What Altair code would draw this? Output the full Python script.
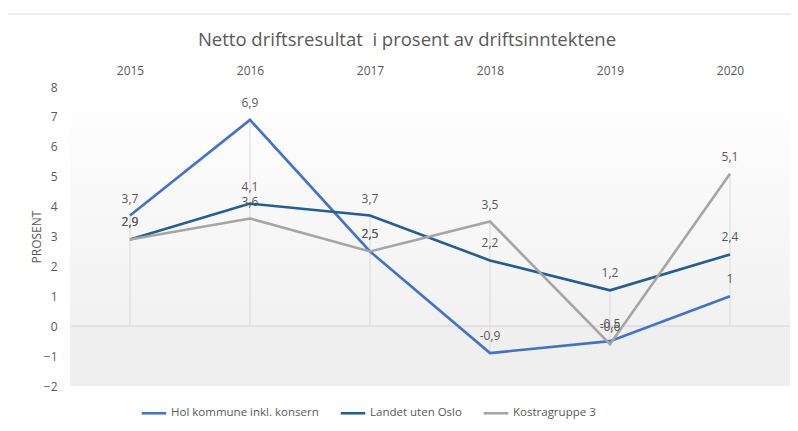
import altair as alt
import pandas as pd

years = ["2015", "2016", "2017", "2018", "2019", "2020"]
series = ["Hol kommune inkl. konsern", "Landet uten Oslo", "Kostragruppe 3"]
hol = [3.7, 6.9, 2.5, -0.9, -0.5, 1.0]
landet = [2.9, 4.1, 3.7, 2.2, 1.2, 2.4]
kostra = [2.9, 3.6, 2.5, 3.5, -0.6, 5.1]
colors = ["#4472C4", "#255E91", "#A5A5A5"]
y_ticks = list(range(-2, 9))
title_text = "Netto driftsresultat \u00a0i prosent av driftsinntektene"

FONT = "Open Sans"
GREY = "#595959"


def fmt(v):
    s = ("%g" % v)
    return s.replace(".", ",")


rows = []
for s, vals in zip(series, [hol, landet, kostra]):
    for yr, v in zip(years, vals):
        rows.append({"year": yr, "series": s, "value": v, "label": fmt(v)})
df = pd.DataFrame(rows)

all_vals = list(zip(hol, landet, kostra))
drop = pd.DataFrame({
    "year": years,
    "lo": [min(0, *v) for v in all_vals],
    "hi": [max(0, *v) for v in all_vals],
})
pos_bg = pd.DataFrame({"top": [8], "bottom": [0]})
neg_bg = pd.DataFrame({"top": [0], "bottom": [-2]})
zero = pd.DataFrame({"v": [0]})

yscale = alt.Scale(domain=[-2, 8], nice=False, zero=False)
xscale = alt.Scale(type="point", padding=0.5, domain=years)

y_axis = alt.Axis(values=y_ticks, title="PROSENT", labelPadding=13,
                  titlePadding=0, titleFont=FONT, titleFontSize=12,
                  titleFontWeight="normal", titleColor=GREY)
x_axis = alt.Axis(orient="top", labelPadding=10, labelAngle=0, title=None)


def Y(field):
    return alt.Y(field, scale=yscale, axis=y_axis, title="PROSENT")


def X():
    return alt.X("year:N", scale=xscale, axis=x_axis, title=None)


neg_layer = alt.Chart(neg_bg).mark_rect(color="#efefef").encode(
    x=alt.value(0), x2=alt.value(720),
    y=Y("top:Q"),
    y2="bottom:Q",
)

grad = alt.Gradient(
    gradient="linear",
    stops=[alt.GradientStop(color="#ffffff", offset=0),
           alt.GradientStop(color="#f1f1f1", offset=1)],
    x1=0, x2=0, y1=0, y2=1,
)
pos_layer = alt.Chart(pos_bg).mark_rect(color=grad).encode(
    x=alt.value(0), x2=alt.value(720),
    y=Y("top:Q"),
    y2="bottom:Q",
)

zero_layer = alt.Chart(zero).mark_rule(color="#d9d9d9", strokeWidth=1.2).encode(
    y=Y("v:Q"),
)

drop_layer = alt.Chart(drop).mark_rule(color="#d9d9d9", strokeWidth=1).encode(
    x=X(),
    y=Y("lo:Q"),
    y2="hi:Q",
)

line_layer = alt.Chart(df).mark_line(strokeWidth=2.6).encode(
    x=X(),
    y=Y("value:Q"),
    color=alt.Color(
        "series:N",
        scale=alt.Scale(domain=series, range=colors),
        legend=alt.Legend(
            orient="none", legendX=70, legendY=312, direction="horizontal",
            title=None, symbolType="stroke", symbolStrokeWidth=2.6,
            symbolSize=600, labelFont=FONT, labelFontSize=11.5, labelColor=GREY,
            columnPadding=16, labelOffset=3,
        ),
    ),
)

text_layer = alt.Chart(df).mark_text(
    font=FONT, fontSize=12, fill=GREY, baseline="middle", dy=-17
).encode(
    x=X(),
    y=Y("value:Q"),
    text="label:N",
)

border_top = alt.Chart(zero).mark_rule(color="#d9d9d9", strokeWidth=1).encode(
    x=alt.value(-63), x2=alt.value(730), y=alt.value(-73)
)
border_left = alt.Chart(zero).mark_rule(color="#d9d9d9", strokeWidth=1).encode(
    x=alt.value(-63), y=alt.value(-73), y2=alt.value(345)
)

chart = alt.layer(
    neg_layer, pos_layer, zero_layer, drop_layer, line_layer, text_layer,
    border_top, border_left,
).properties(
    width=720,
    height=299,
    padding={"left": 62, "top": 79, "right": 0, "bottom": 37},
    autosize=alt.AutoSizeParams(type="none"),
    title=alt.TitleParams(
        title_text, font=FONT, fontSize=18.5, color=GREY,
        anchor="middle", dx=-23, offset=-36,
    ),
).configure_view(stroke=None).configure_axis(
    domain=False, ticks=False, grid=False, labelColor=GREY, labelFont=FONT,
    labelFontSize=12,
).configure_title(fontWeight="normal")

chart.save("out.html", embed_options={"renderer": "svg", "actions": False})
